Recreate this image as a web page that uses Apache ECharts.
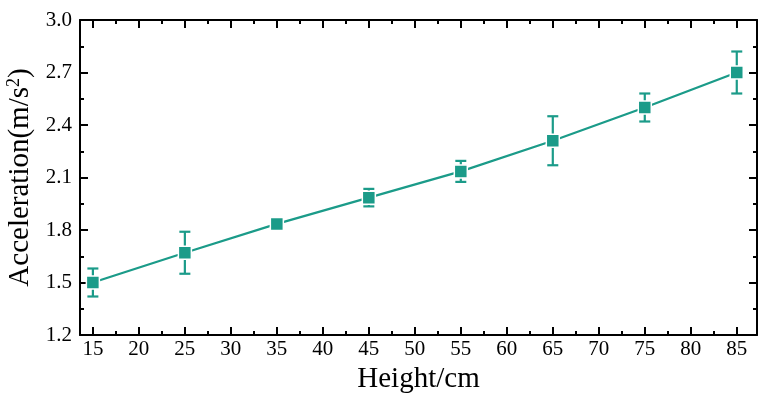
<!DOCTYPE html>
<html>
<head>
<meta charset="utf-8">
<script src="https://cdn.jsdelivr.net/npm/echarts@6/dist/echarts.min.js"></script>
<style>
html,body{margin:0;padding:0;background:#fff;}
#echart{width:760px;height:395px;}
</style>
</head>
<body>
<div id="echart"></div>
<script>
// values
var heights = [15, 25, 35, 45, 55, 65, 75, 85];
var accel = [1.50, 1.67, 1.835, 1.985, 2.135, 2.31, 2.50, 2.70];
var errs = [0.08, 0.12, 0.02, 0.05, 0.06, 0.14, 0.08, 0.12];
var xMajor = [15, 20, 25, 30, 35, 40, 45, 50, 55, 60, 65, 70, 75, 80, 85];
var xMinor = [17.5, 22.5, 27.5, 32.5, 37.5, 42.5, 47.5, 52.5, 57.5, 62.5, 67.5, 72.5, 77.5, 82.5];

var teal = '#1b9b89';
var font = 'Liberation Serif';

var lineData = [];
var errData = [];
for (var i = 0; i < heights.length; i++) {
	lineData.push([heights[i], accel[i]]);
	errData.push([heights[i], accel[i] - errs[i], accel[i] + errs[i]]);
}

function xAxisOf(pos, ticks, len, showLine, showLabel) {
	return {
		type: 'value', position: pos, min: 13.6, max: 87.2,
		axisLine: {show: showLine, onZero: false, lineStyle: {color: '#000', width: 2}},
		axisTick: {show: true, inside: true, length: len, customValues: ticks, lineStyle: {color: '#000', width: 2}},
		axisLabel: {show: showLabel, customValues: ticks, margin: 4, color: '#000', fontFamily: font, fontSize: 21},
		splitLine: {show: false}
	};
}
function yAxisOf(pos, showLabel) {
	return {
		type: 'value', position: pos, min: 1.2, max: 3.0, interval: 0.3,
		axisLine: {show: true, onZero: false, lineStyle: {color: '#000', width: 2}},
		axisTick: {show: true, inside: true, length: 8, lineStyle: {color: '#000', width: 2}},
		minorTick: {show: true, splitNumber: 2, length: 4, lineStyle: {color: '#000', width: 2}},
		axisLabel: {show: showLabel, margin: 8, color: '#000', fontFamily: font, fontSize: 21,
			formatter: function (v) { return v.toFixed(1); }},
		splitLine: {show: false}
	};
}

var xBottom = xAxisOf('bottom', xMajor, 8, true, true);
xBottom.name = 'Height/cm';
xBottom.nameLocation = 'middle';
xBottom.nameGap = 30;
xBottom.nameTextStyle = {color: '#000', fontFamily: font, fontSize: 29};

var yLeft = yAxisOf('left', true);
yLeft.name = '{t|Acceleration(m/s}{s|2}{t|)}';
yLeft.nameLocation = 'middle';
yLeft.nameGap = 39;
yLeft.nameTextStyle = {
	rich: {
		t: {color: '#000', fontFamily: font, fontSize: 29, lineHeight: 31},
		s: {color: '#000', fontFamily: font, fontSize: 18, lineHeight: 18, verticalAlign: 'top'}
	}
};

var option = {
	animation: false,
	backgroundColor: '#fff',
	grid: {left: 80, right: 3, top: 20, bottom: 60, containLabel: false, outerBoundsMode: 'none'},
	xAxis: [
		xBottom,
		xAxisOf('bottom', xMinor, 4, false, false),
		xAxisOf('top', xMajor, 8, true, false),
		xAxisOf('top', xMinor, 4, false, false)
	],
	yAxis: [yLeft, yAxisOf('right', false)],
	series: [
		{
			type: 'custom',
			xAxisIndex: 0, yAxisIndex: 0,
			z: 2,
			data: errData,
			renderItem: function (params, api) {
				var x = api.value(0);
				var lo = api.coord([x, api.value(1)]);
				var hi = api.coord([x, api.value(2)]);
				var w = 5.5;
				var st = {stroke: teal, lineWidth: 2.2, fill: null};
				return {
					type: 'group',
					children: [
						{type: 'line', shape: {x1: lo[0], y1: lo[1], x2: hi[0], y2: hi[1]}, style: st},
						{type: 'line', shape: {x1: lo[0] - w, y1: lo[1], x2: lo[0] + w, y2: lo[1]}, style: st},
						{type: 'line', shape: {x1: hi[0] - w, y1: hi[1], x2: hi[0] + w, y2: hi[1]}, style: st}
					]
				};
			}
		},
		{
			type: 'line',
			xAxisIndex: 0, yAxisIndex: 0,
			z: 3,
			data: lineData,
			symbol: 'rect',
			symbolSize: 13,
			showAllSymbol: true,
			lineStyle: {color: teal, width: 2.3},
			itemStyle: {color: teal, borderColor: '#fff', borderWidth: 1.5}
		}
	]
};

var myChart = echarts.init(document.getElementById('echart'));
myChart.setOption(option);
</script>
</body>
</html>
